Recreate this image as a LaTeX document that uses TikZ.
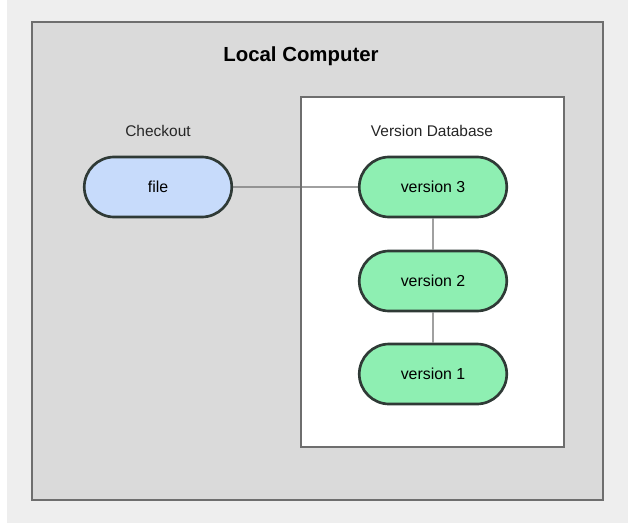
\documentclass[tikz,border=0pt]{standalone}
\usepackage{fontspec}
\setmainfont{Liberation Sans}
\usetikzlibrary{shapes.misc}

\definecolor{pagegray}{HTML}{EEEEEE}
\definecolor{boxgray}{HTML}{DADADA}
\definecolor{edgegray}{HTML}{6E6E6E}
\definecolor{fileblue}{HTML}{C7DBFB}
\definecolor{versiongreen}{HTML}{8EEFB2}
\definecolor{pillline}{HTML}{2F3A36}

\tikzset{
  pill/.style={rounded rectangle, draw=pillline, line width=1.9pt,
    minimum width=3.92cm, minimum height=1.5cm, font=\fontsize{11.3}{13}\selectfont},
  label/.style={font=\fontsize{11}{13}\selectfont, text=black!85}
}

\begin{document}
\begin{tikzpicture}[x=0.025cm,y=-0.025cm]
    \useasboundingbox (0,0) rectangle (636,526);
    \fill[pagegray] (7,0) rectangle (628,523);
    \draw[edgegray,fill=boxgray,line width=1.2pt] (32,22) rectangle (603,500);
    \draw[edgegray,fill=white,line width=1.2pt] (301,97) rectangle (564,447);

    \node[font=\bfseries\fontsize{14.5}{17}\selectfont] (title) at (301,56) {Local Computer};
    \node[label] (checkout) at (158,131) {Checkout};
    \node[label] (db) at (432,131) {Version Database};

    \node[pill,fill=fileblue] (file) at (158,187) {file};
    \node[pill,fill=versiongreen] (v3) at (433,187) {version 3};
    \node[pill,fill=versiongreen] (v2) at (433,281) {version 2};
    \node[pill,fill=versiongreen] (v1) at (433,374) {version 1};

    \foreach \from/\to in {file/v3, v3/v2, v2/v1}
      \draw[edgegray,line width=0.9pt] (\from) -- (\to);
  \end{tikzpicture}
\end{document}
